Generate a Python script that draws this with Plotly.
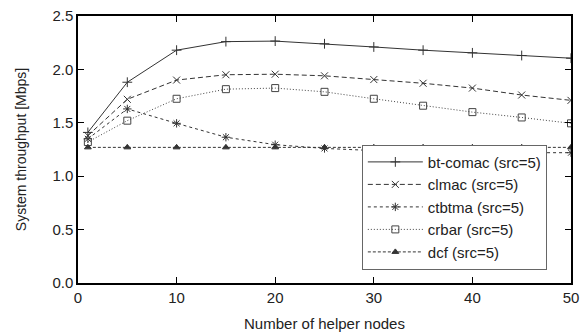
import plotly.graph_objects as go

x_nodes = [1, 5, 10, 15, 20, 25, 30, 35, 40, 45, 50]
bt_comac = [1.41, 1.88, 2.18, 2.26, 2.265, 2.24, 2.21, 2.18, 2.155, 2.13, 2.105]
clmac = [1.38, 1.72, 1.90, 1.95, 1.955, 1.94, 1.905, 1.87, 1.825, 1.76, 1.71]
ctbtma = [1.35, 1.63, 1.495, 1.365, 1.295, 1.26, 1.24, 1.23, 1.22, 1.22, 1.22]
crbar = [1.32, 1.52, 1.725, 1.815, 1.825, 1.79, 1.725, 1.66, 1.60, 1.55, 1.495]
dcf = [1.27, 1.27, 1.27, 1.27, 1.27, 1.27, 1.27, 1.27, 1.27, 1.27, 1.27]

names = ["bt-comac (src=5)", "clmac (src=5)", "ctbtma (src=5)", "crbar (src=5)", "dcf (src=5)"]
series = [bt_comac, clmac, ctbtma, crbar, dcf]
dashes = ["solid", "5px,3px", "3px,3px", "1px,2px", "3px,2px"]
symbols = ["cross-thin", "x-thin", "asterisk-open", "square-open", "triangle-up"]
sizes = [7, 7, 7, 7, 6]
colors = ["#333333", "#333333", "#333333", "#444444", "#333333"]

FONT = "Liberation Sans, Arial"

fig = go.Figure()
for n, y, d, s, sz, c in zip(names, series, dashes, symbols, sizes, colors):
    fig.add_trace(go.Scatter(
        x=x_nodes, y=y, name=n, mode="lines+markers",
        line=dict(color=c, width=1, dash=d),
        marker=dict(symbol=s, size=sz, color=c, line=dict(color=c, width=1)),
    ))

axis_common = dict(
    showline=True, linecolor="black", linewidth=1.5, mirror="ticks",
    ticks="inside", ticklen=6, tickcolor="black", tickwidth=1,
    showgrid=False, zeroline=False, automargin=False,
    tickfont=dict(family=FONT, size=15, color="#222"),
)
fig.update_xaxes(range=[0, 50], dtick=10, **axis_common,
                 title=dict(text="Number of helper nodes", standoff=14,
                            font=dict(family=FONT, size=15, color="#222")))
fig.update_yaxes(range=[0, 2.5], dtick=0.5, tickformat=".1f", **axis_common,
                 title=dict(text="System throughput [Mbps]", standoff=22,
                            font=dict(family=FONT, size=14, color="#222")))

fig.update_layout(
    width=587, height=336,
    margin=dict(l=78, r=16, t=16, b=53),
    paper_bgcolor="white", plot_bgcolor="white",
    font=dict(family=FONT, color="#222"),
    legend=dict(
        x=0.951, y=0.05, xanchor="right", yanchor="bottom",
        bordercolor="#666", borderwidth=1, bgcolor="white",
        font=dict(size=15, family=FONT),
        tracegroupgap=0, itemwidth=55,
    ),
)

fig.write_html("out.html")
